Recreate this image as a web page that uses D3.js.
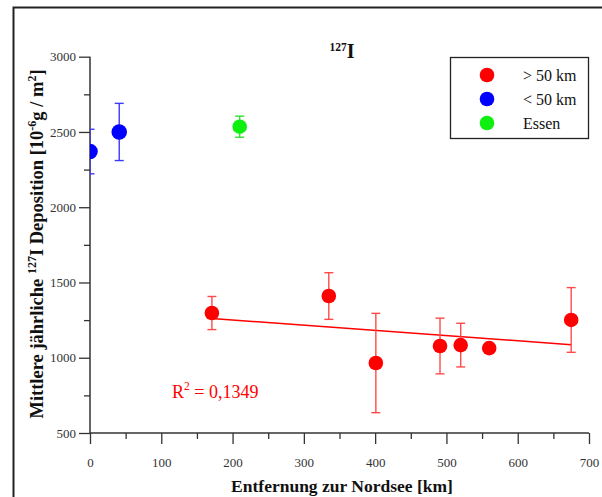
<!DOCTYPE html>
<html>
<head>
<meta charset="utf-8">
<script src="https://cdn.jsdelivr.net/npm/d3@7"></script>
<style>
  html, body { margin: 0; padding: 0; background: #fff; }
  svg { display: block; font-family: "Liberation Serif", "Times New Roman", serif; }
</style>
</head>
<body>
<svg id="chart" width="602" height="497"></svg>
<script>
// Distance to the North Sea [km] and mean annual 127I deposition [10^-6 g / m^2]
const farKm   = [171, 335, 401, 491, 520, 560, 675];
const farDep  = [1297, 1410, 965, 1078, 1084, 1064, 1251];
const farErr  = [110, 155, 330, 185, 145, 0, 215];

const nearKm  = [0, 41];
const nearDep = [2370, 2500];
const nearErr = [148, 190];

const essenKm  = [210];
const essenDep = [2535];
const essenErr = [70];

const xTicks = [0, 100, 200, 300, 400, 500, 600, 700];
const yTicks = [500, 1000, 1500, 2000, 2500, 3000];
const legendLabels = ["> 50 km", "< 50 km", "Essen"];
const r2Label = "0,1349";

const RED = "#ff0000", BLUE = "#0000ff", GREEN = "#10f010";

const svg = d3.select("#chart");

const x = d3.scaleLinear().domain([0, 700]).range([90, 589]);
const y = d3.scaleLinear().domain([500, 3000]).range([433, 56.7]);

// outer frame
svg.append("path")
  .attr("d", "M13.5,510 V7.5 H620")
  .attr("fill", "none").attr("stroke", "#222").attr("stroke-width", 2);

// clip for markers sitting on the axis
svg.append("clipPath").attr("id", "plotclip")
  .append("rect").attr("x", 90).attr("y", 40).attr("width", 520).attr("height", 393);

// axes
const axisTxt = g => g.selectAll("text")
  .attr("font-family", "Liberation Serif, serif").attr("font-size", 13).attr("fill", "#333");

const yAxis = svg.append("g").attr("transform", "translate(90,0)")
  .call(d3.axisLeft(y).tickValues(yTicks).tickSize(11).tickPadding(3).tickFormat(d3.format("d")));
yAxis.call(axisTxt);
svg.append("g").attr("transform", "translate(90,0)")
  .call(d3.axisLeft(y).tickValues(d3.range(750, 3000, 500)).tickSize(6).tickFormat(""))
  .select(".domain").remove();

const xAxis = svg.append("g").attr("transform", "translate(0,433)")
  .call(d3.axisBottom(x).tickValues(xTicks).tickSize(11).tickPadding(14).tickFormat(d3.format("d")));
xAxis.call(axisTxt);
svg.append("g").attr("transform", "translate(0,433)")
  .call(d3.axisBottom(x).tickValues(d3.range(50, 700, 100)).tickSize(6).tickFormat(""))
  .select(".domain").remove();

svg.selectAll(".domain").attr("d", null);
svg.selectAll(".tick line").attr("stroke", "#333").attr("stroke-width", 1.3);
// axis lines
svg.append("line").attr("x1", 90).attr("x2", 90).attr("y1", y(3000)).attr("y2", y(500))
  .attr("stroke", "#333").attr("stroke-width", 1.5);
svg.append("line").attr("x1", 90).attr("x2", x(700)).attr("y1", 433).attr("y2", 433)
  .attr("stroke", "#333").attr("stroke-width", 1.5);

// axis titles
svg.append("text")
  .attr("x", 342).attr("y", 492).attr("text-anchor", "middle")
  .attr("font-size", 17.5).attr("font-weight", "bold").attr("fill", "#111")
  .text("Entfernung zur Nordsee [km]");

const yl = svg.append("text")
  .attr("transform", "translate(43,244) rotate(-90)")
  .attr("text-anchor", "middle")
  .attr("font-size", 18.5).attr("font-weight", "bold").attr("fill", "#111");
yl.append("tspan").text("Mittlere jährliche ");
yl.append("tspan").attr("dy", -7).attr("font-size", 12).text("127");
yl.append("tspan").attr("dy", 7).text("I Deposition [10");
yl.append("tspan").attr("dy", -7).attr("font-size", 12).text("-6");
yl.append("tspan").attr("dy", 7).text("g / m");
yl.append("tspan").attr("dy", -7).attr("font-size", 12).text("2");
yl.append("tspan").attr("dy", 7).text("]");

// title
const t = svg.append("text").attr("x", 342).attr("y", 58).attr("text-anchor", "middle")
  .attr("font-weight", "bold").attr("fill", "#111");
t.append("tspan").attr("font-size", 11.5).attr("dy", -7).text("127");
t.append("tspan").attr("font-size", 20).attr("dy", 7).text("I");

// regression line for the > 50 km series
const mx = d3.mean(farKm), my = d3.mean(farDep);
const sxy = d3.sum(farKm, (v, i) => (v - mx) * (farDep[i] - my));
const sxx = d3.sum(farKm, v => (v - mx) ** 2);
const slope = sxy / sxx, icpt = my - slope * mx;
const [x0, x1] = d3.extent(farKm);
svg.append("line")
  .attr("x1", x(x0)).attr("y1", y(icpt + slope * x0))
  .attr("x2", x(x1)).attr("y2", y(icpt + slope * x1))
  .attr("stroke", RED).attr("stroke-width", 1.5);

// error bars and markers
const plot = svg.append("g").attr("clip-path", "url(#plotclip)");
function series(km, dep, err, color, barColor, r) {
  const data = km.map((k, i) => ({ k, v: dep[i], e: err[i] }));
  const g = plot.append("g");
  const eb = g.selectAll(".eb").data(data.filter(d => d.e > 0)).join("g")
    .attr("stroke", barColor).attr("stroke-width", 1.4);
  eb.append("line").attr("x1", d => x(d.k)).attr("x2", d => x(d.k))
    .attr("y1", d => y(d.v + d.e)).attr("y2", d => y(d.v - d.e));
  eb.append("line").attr("x1", d => x(d.k) - 4.5).attr("x2", d => x(d.k) + 4.5)
    .attr("y1", d => y(d.v + d.e)).attr("y2", d => y(d.v + d.e));
  eb.append("line").attr("x1", d => x(d.k) - 4.5).attr("x2", d => x(d.k) + 4.5)
    .attr("y1", d => y(d.v - d.e)).attr("y2", d => y(d.v - d.e));
  g.selectAll("circle").data(data).join("circle")
    .attr("cx", d => x(d.k)).attr("cy", d => y(d.v)).attr("r", r).attr("fill", color);
}
series(farKm, farDep, farErr, RED, "#ff4a4a", 7.3);
series(nearKm, nearDep, nearErr, BLUE, "#3a3aff", 7.8);
series(essenKm, essenDep, essenErr, GREEN, "#30e030", 7.3);

// R² annotation
const r2 = svg.append("text").attr("x", 172).attr("y", 398)
  .attr("font-size", 18).attr("fill", RED);
r2.append("tspan").text("R");
r2.append("tspan").attr("dy", -8).attr("font-size", 11.5).text("2");
r2.append("tspan").attr("dy", 8).text(" = " + r2Label);

// legend
svg.append("rect").attr("x", 450.5).attr("y", 57.5).attr("width", 138).attr("height", 81)
  .attr("fill", "#fff").attr("stroke", "#222").attr("stroke-width", 1.3);
const lg = svg.append("g");
[RED, BLUE, GREEN].forEach((c, i) => {
  lg.append("circle").attr("cx", 487).attr("cy", 75 + i * 24).attr("r", 7.3).attr("fill", c);
  lg.append("text").attr("x", 523).attr("y", 80.5 + i * 24).attr("font-size", 16)
    .attr("fill", "#111").text(legendLabels[i]);
});
</script>
</body>
</html>
